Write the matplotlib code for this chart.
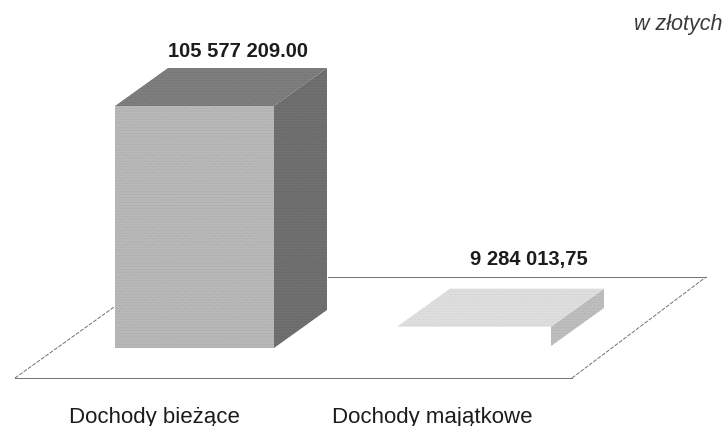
import matplotlib
matplotlib.use("Agg")
import matplotlib.pyplot as plt
from matplotlib.patches import Polygon

categories = ["Dochody bieżące", "Dochody majątkowe"]
values = [105577209.00, 9284013.75]
value_labels = ["105 577 209.00", "9 284 013,75"]
unit_label = "w złotych"

W, H = 728, 427
PX_X = 1 / 279.5              # category units per pixel
PX_Y = values[0] / 242.0      # value units per pixel
X0, Y0 = 194.5, 349           # pixel position of category 0 / value 0

fig = plt.figure(figsize=(W / 100, H / 100), dpi=100, facecolor="white")
ax = fig.add_axes([0, 0, 1, 1])
ax.set_xlim(-X0 * PX_X, (W - X0) * PX_X)
ax.set_ylim(-(H - Y0) * PX_Y, Y0 * PX_Y)
ax.axis("off")
plt.rcParams["font.family"] = ["Liberation Sans", "DejaVu Sans"]
plt.rcParams["hatch.linewidth"] = 0.3

dx, dy = 53 * PX_X, 38 * PX_Y
widths = [159 * PX_X, 154 * PX_X]
lifts = [0, 2 * PX_Y]
face_cols = [("#b8b8b8", "#707070", "#7e7e7e"), ("#ffffff", "#bebebe", "#dedede")]
grain_cols = [("#a2a2a2", "#5e5e5e", "#6a6a6a"), ("#ffffff", "#a8a8a8", "#cccccc")]
label_dx = [-40.5 * PX_X, -42 * PX_X]
value_dx = [43 * PX_X, 54.5 * PX_X]
value_gap = [12 * PX_Y, 25 * PX_Y]

# floor
fx = [-179.5 * PX_X, 377.5 * PX_X, 511.5 * PX_X, 133 * PX_X]
fy = -30 * PX_Y
by = 71 * PX_Y
ax.plot([fx[0], fx[1]], [fy, fy], color="#707070", lw=0.7, zorder=1)
ax.plot([fx[2], fx[3]], [by, by], color="#707070", lw=0.7, zorder=1)
ax.plot([fx[1], fx[2]], [fy, by], color="#707070", lw=0.7, ls=(0, (4, 1.5)), zorder=1)
ax.plot([fx[0], -79 * PX_X], [fy, 42 * PX_Y], color="#707070", lw=0.7, ls=(0, (4, 1.5)), zorder=1)

for i, (v, w, lift, cols, grains) in enumerate(zip(values, widths, lifts, face_cols, grain_cols)):
    l, r = i - w / 2, i + w / 2
    b, t = lift, v
    front, side, top = cols
    gf, gs, gt = grains
    ax.add_patch(Polygon([(r, b), (r + dx, b + dy), (r + dx, t + dy), (r, t)],
                         fc=side, ec=gs, lw=0, hatch="......", zorder=3))
    ax.add_patch(Polygon([(l, t), (r, t), (r + dx, t + dy), (l + dx, t + dy)],
                         fc=top, ec=gt, lw=0, hatch="......", zorder=3))
    ax.add_patch(Polygon([(l, b), (r, b), (r, t), (l, t)],
                         fc=front, ec=gf, lw=0, hatch="......", zorder=4))
    ax.text(i + value_dx[i], t + dy + value_gap[i], value_labels[i],
            ha="center", va="baseline", fontsize=14.5, fontweight="bold", color="#1c1c1c")
    ax.text(i + label_dx[i], -74 * PX_Y, categories[i],
            ha="center", va="baseline", fontsize=16, color="#1c1c1c")

ax.text(722 / W, 1 - 30 / H, unit_label, transform=ax.transAxes, ha="right", va="baseline",
        fontsize=15.5, style="italic", color="#3a3a3a")

fig.savefig("out.png", dpi=100)
